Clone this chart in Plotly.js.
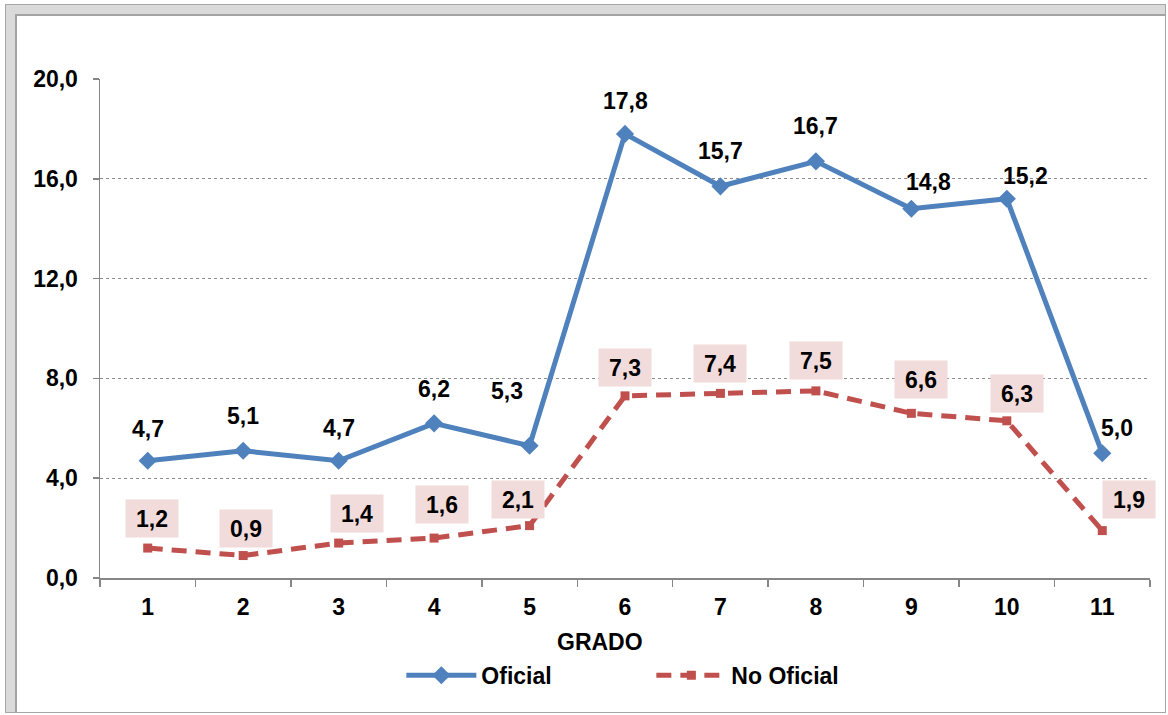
<!DOCTYPE html>
<html>
<head>
<meta charset="utf-8">
<script src="https://cdn.plot.ly/plotly-3.0.1.min.js"></script>
<style>
  html, body { margin:0; padding:0; background:#fff; }
  #chart { position:absolute; left:0; top:0; width:1168px; height:715px; }
  .fr { position:absolute; box-sizing:border-box; pointer-events:none; }
</style>
</head>
<body>
<div id="chart"></div>
<div class="fr" style="left:5px;top:4px;width:1161px;height:709px;border:1px solid #a6a6a6;"></div>
<div class="fr" style="left:6px;top:5px;width:1159px;height:707px;border-left:9px solid #dadada;border-top:9px solid #dadada;"></div>
<div class="fr" style="left:15px;top:14px;width:1150px;height:698px;border-left:2px solid #a3a3a3;border-top:2px solid #a3a3a3;"></div>
<script>
// ---- data ----
const grados = ['1','2','3','4','5','6','7','8','9','10','11'];
const oficial = [4.7, 5.1, 4.7, 6.2, 5.3, 17.8, 15.7, 16.7, 14.8, 15.2, 5.0];
const noOficial = [1.2, 0.9, 1.4, 1.6, 2.1, 7.3, 7.4, 7.5, 6.6, 6.3, 1.9];
const yTicks = [0, 4, 8, 12, 16, 20];

// ---- label placement tweaks (pixels) ----
const ofDx = [0, 0, 0, 0, -23, 0, 0, 0, 17, 19, 15];
const ofDy = [32, 35, 33, 34, 55, 33, 35, 35, 27, 23, 25];
const noDx = [4, 3, 18, 8, -12, 0, 0, 0, 10, 10, 27];
const noDy = [30, 27, 30, 34, 26, 28, 30, 30, 34, 27, 31];

const FONT = 'Liberation Sans, Arial, sans-serif';
const fmt = v => v.toFixed(1).replace('.', ',');

const traces = [
  {
    x: grados, y: oficial, name: 'Oficial', type: 'scatter', mode: 'lines+markers',
    line: { color: '#4f81bd', width: 5 },
    marker: { symbol: 'diamond', size: 14, color: '#4f81bd' }
  },
  {
    x: grados, y: noOficial, name: 'No Oficial', type: 'scatter', mode: 'lines+markers',
    line: { color: '#c0504d', width: 5, dash: '15px,9px' },
    marker: { symbol: 'square', size: 9, color: '#c0504d' }
  }
];

const annotations = [];
grados.forEach((g, i) => {
  // category axes take the category index for annotation positions
  annotations.push({
    x: i, y: oficial[i], xref: 'x', yref: 'y', text: fmt(oficial[i]), showarrow: false,
    xshift: ofDx[i], yshift: ofDy[i],
    font: { family: FONT, size: 23, color: '#000', weight: 'bold' }
  });
  annotations.push({
    x: i, y: noOficial[i], xref: 'x', yref: 'y', text: fmt(noOficial[i]), showarrow: false,
    xshift: noDx[i], yshift: noDy[i], width: 50, height: 35, bgcolor: '#f2dcdb',
    font: { family: FONT, size: 23, color: '#000', weight: 'bold' }
  });
});
annotations.push({
  xref: 'paper', yref: 'paper', x: 0.476, y: -0.129, xanchor: 'center', yanchor: 'middle',
  text: 'GRADO', showarrow: false,
  font: { family: FONT, size: 23, color: '#000', weight: 'bold' }
});

const layout = {
  width: 1168, height: 715,
  margin: { l: 100, r: 18, t: 79, b: 137 },
  paper_bgcolor: '#fff', plot_bgcolor: '#fff',
  separators: ',.',
  showlegend: true,
  legend: {
    orientation: 'h', x: 0.287, y: -0.195, xanchor: 'left', yanchor: 'middle',
    itemwidth: 70, entrywidth: 165,
    font: { family: FONT, size: 23, color: '#000', weight: 'bold' }
  },
  xaxis: {
    type: 'category', range: [-0.5, 10.5], tickson: 'boundaries', ticks: 'outside', ticklen: 7,
    tickcolor: '#868686', tickwidth: 1.5,
    showline: true, linecolor: '#868686', linewidth: 1.5,
    showgrid: false, zeroline: false,
    tickfont: { family: FONT, size: 23, color: '#000', weight: 'bold' },
    ticklabelstandoff: 8
  },
  yaxis: {
    range: [0, 20], tickvals: yTicks, tickformat: '.1f',
    ticks: 'outside', ticklen: 6, tickcolor: '#868686', tickwidth: 1.5,
    showline: true, linecolor: '#868686', linewidth: 1.5,
    showgrid: true, gridcolor: '#8c8c8c', gridwidth: 1, griddash: 'dot',
    zeroline: false,
    tickfont: { family: FONT, size: 23, color: '#000', weight: 'bold' },
    ticklabelstandoff: 10
  },
  annotations: annotations
};

Plotly.newPlot('chart', traces, layout, { displayModeBar: false, staticPlot: true });
</script>
</body>
</html>
